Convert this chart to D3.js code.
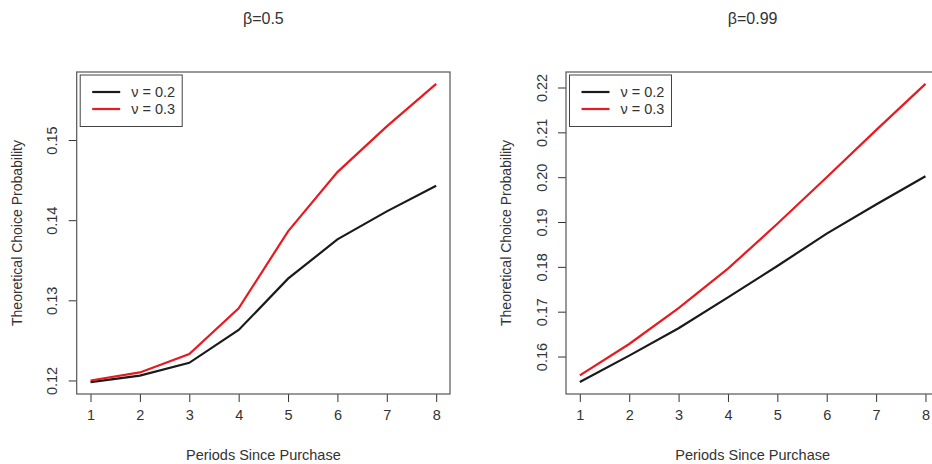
<!DOCTYPE html>
<html>
<head>
<meta charset="utf-8">
<script src="https://d3js.org/d3.v7.min.js"></script>
<style>
  body { margin: 0; background: #fff; }
  text { font-family: "Liberation Sans", Arial, sans-serif; fill: #333; }
</style>
</head>
<body>
<svg id="vis" width="932" height="464"></svg>
<script>
// values
var periods = [1, 2, 3, 4, 5, 6, 7, 8]
var seriesNames = ["\u03bd = 0.2", "\u03bd = 0.3"]
var seriesColors = ["#1a1a1a", "#e8191f"]

var beta05_nu02 = [0.1198, 0.1206, 0.1222, 0.1263, 0.1327, 0.1376, 0.1411, 0.1443]
var beta05_nu03 = [0.1200, 0.1210, 0.1233, 0.1290, 0.1386, 0.1460, 0.1517, 0.1570]
var beta099_nu02 = [0.1543, 0.1602, 0.1663, 0.1732, 0.1802, 0.1874, 0.1939, 0.2002]
var beta099_nu03 = [0.1558, 0.1628, 0.1708, 0.1796, 0.1896, 0.2000, 0.2105, 0.2208]

var yTicks05 = [0.12, 0.13, 0.14, 0.15]
var yTicks099 = [0.16, 0.17, 0.18, 0.19, 0.20, 0.21, 0.22]

var svg = d3.select("#vis")

// R style: 4% padding around the data range
function padded(ext) {
  var p = (ext[1] - ext[0]) * 0.04
  return [ext[0] - p, ext[1] + p]
}

function drawPanel(left, title, series, yTicks) {
  var right = left + 373.3, top = 72, bottom = 394

  var x = d3.scaleLinear().domain(padded(d3.extent(periods))).range([left, right])
  var y = d3.scaleLinear().domain(padded(d3.extent(d3.merge(series)))).range([bottom, top])

  var g = svg.append("g")

  // y axis, labels parallel to the axis like R's las=0
  var ya = g.append("g")
    .attr("transform", `translate(${left},0)`)
    .call(d3.axisLeft(y).tickValues(yTicks).tickSize(8).tickFormat(d3.format(".2f")))
  ya.attr("font-family", null).attr("font-size", null)
  ya.select(".domain").remove()
  ya.selectAll("line").attr("stroke", "#333")
  ya.selectAll(".tick text")
    .attr("x", 0).attr("dy", "0.35em")
    .attr("transform", "translate(-24.5,0) rotate(-90)")
    .attr("text-anchor", "middle")
    .attr("fill", "#333")
    .style("font-size", "14.5px")

  // x axis
  var xa = g.append("g")
    .attr("transform", `translate(0,${bottom})`)
    .call(d3.axisBottom(x).tickValues(periods).tickSize(8).tickFormat(d3.format("d")))
  xa.attr("font-family", null).attr("font-size", null)
  xa.select(".domain").remove()
  xa.selectAll("line").attr("stroke", "#333")
  xa.selectAll(".tick text")
    .attr("y", 0).attr("dy", "1.8em")
    .attr("fill", "#333")
    .style("font-size", "14.5px")

  // lines
  var line = d3.line().x((d, i) => x(periods[i])).y(d => y(d))
  series.forEach(function(s, k) {
    g.append("path")
      .datum(s)
      .attr("d", line)
      .attr("fill", "none")
      .attr("stroke", seriesColors[k])
      .attr("stroke-width", 2.2)
  })

  // box
  g.append("rect")
    .attr("x", left).attr("y", top)
    .attr("width", right - left).attr("height", bottom - top)
    .attr("fill", "none").attr("stroke", "#555").attr("stroke-width", 1.2)

  // legend
  var lx = left + 3.5, ly = top + 3
  g.append("rect")
    .attr("x", lx).attr("y", ly).attr("width", 102).attr("height", 51.5)
    .attr("fill", "none").attr("stroke", "#444").attr("stroke-width", 1)
  seriesNames.forEach(function(n, k) {
    var yy = ly + 17 + k * 17
    g.append("line")
      .attr("x1", lx + 12).attr("x2", lx + 40)
      .attr("y1", yy).attr("y2", yy)
      .attr("stroke", seriesColors[k]).attr("stroke-width", 2.2)
    g.append("text")
      .attr("x", lx + 51).attr("y", yy).attr("dy", "0.35em")
      .style("font-size", "14.5px")
      .text(n)
  })

  // titles
  g.append("text")
    .attr("x", (left + right) / 2).attr("y", 24)
    .attr("text-anchor", "middle")
    .style("font-size", "16px")
    .text(title)

  g.append("text")
    .attr("x", (left + right) / 2).attr("y", 460)
    .attr("text-anchor", "middle")
    .style("font-size", "14.5px")
    .text("Periods Since Purchase")

  g.append("text")
    .attr("transform", `translate(${left - 60},${(top + bottom) / 2}) rotate(-90)`)
    .attr("text-anchor", "middle")
    .attr("dy", "0.35em")
    .style("font-size", "14px")
    .text("Theoretical Choice Probability")
}

drawPanel(76.7, "\u03b2=0.5", [beta05_nu02, beta05_nu03], yTicks05)
drawPanel(566, "\u03b2=0.99", [beta099_nu02, beta099_nu03], yTicks099)
</script>
</body>
</html>
